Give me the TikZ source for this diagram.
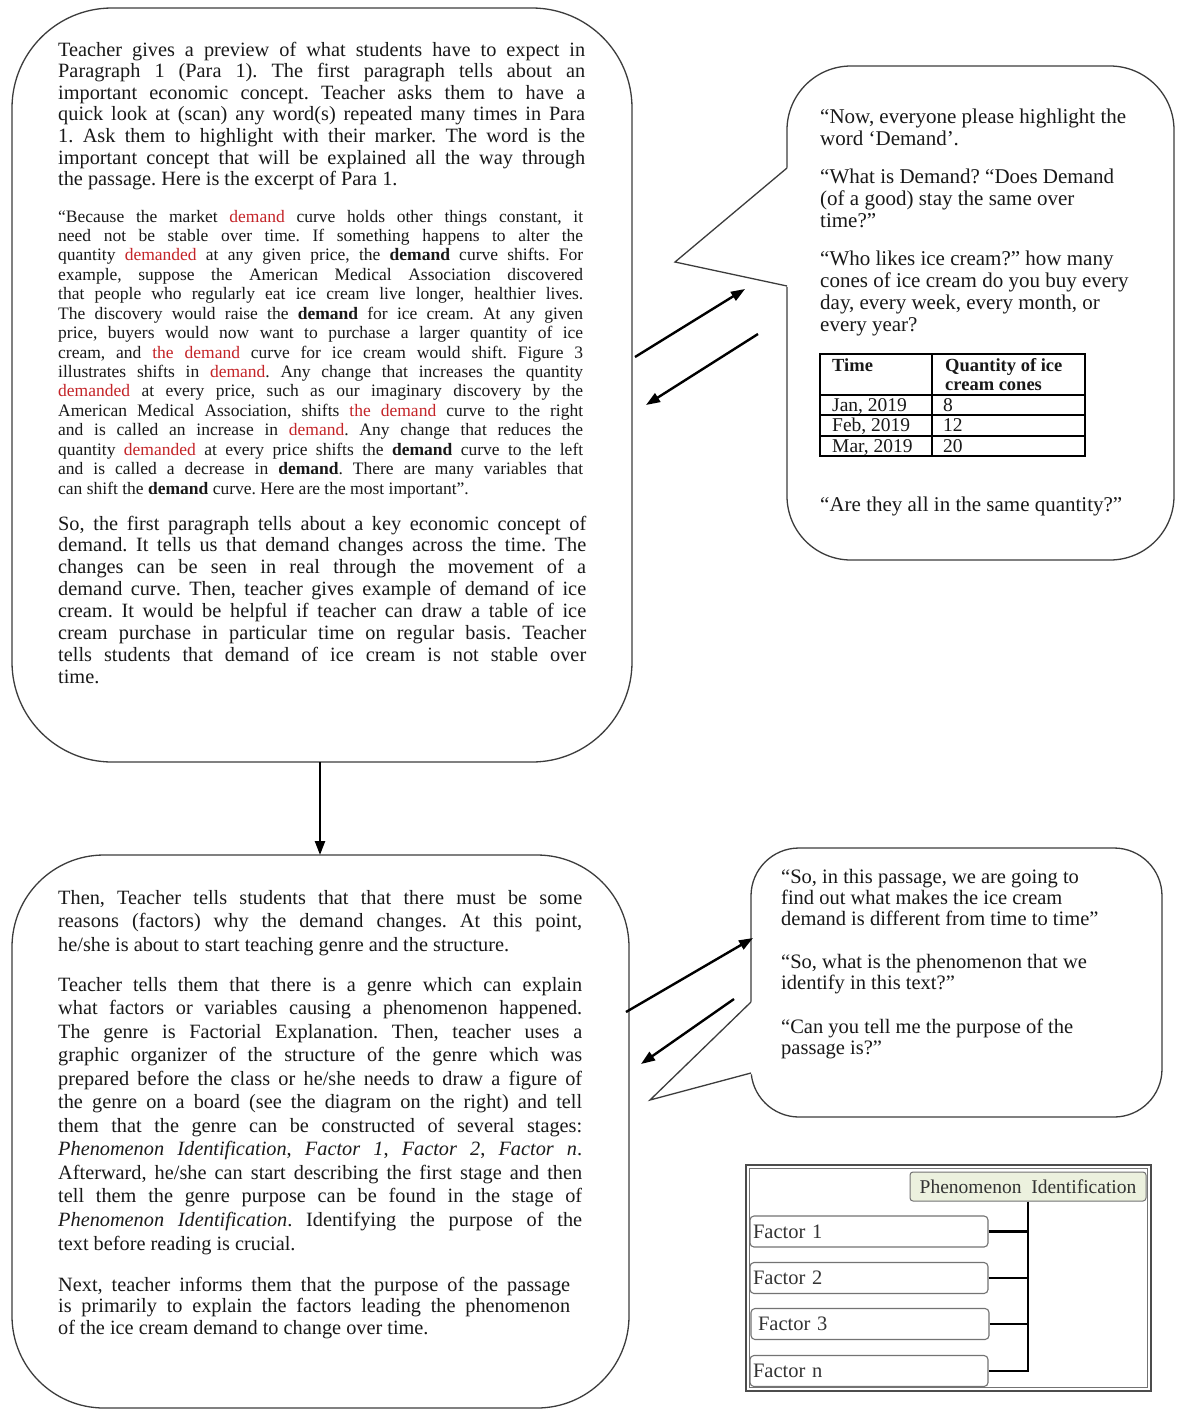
\documentclass[tikz,border=0pt]{standalone}
\usepackage{fontspec}
\setmainfont{Liberation Serif}
\usetikzlibrary{arrows.meta}

\definecolor{edge}{RGB}{60,60,60}
\definecolor{demred}{RGB}{196,36,40}
\definecolor{pifill}{RGB}{236,241,222}
\definecolor{ink}{RGB}{25,25,25}

% one justified line of a paragraph
\newcommand\jline[1]{\makebox[\linewidth][s]{#1}\\}
\newcommand\dem[1]{\textcolor{demred}{#1}}
\newcommand\bdem[1]{\textbf{#1}}

\begin{document}
\frenchspacing
\begin{tikzpicture}[x=1pt,y=-1pt,
  box/.style={draw=edge, line width=1.3pt, fill=white, inner sep=0pt},
  tailline/.style={draw=edge, line width=1.3pt, line join=miter},
  txt/.style={anchor=base west, inner sep=0pt, text=ink},
  body/.style={font=\fontsize{20.3}{21.6}\selectfont},
  quote/.style={font=\fontsize{17.5}{19.43}\selectfont},
  link/.style={line width=2.4pt, -{Triangle[length=14pt,width=10pt]}},
  tbl/.style={line width=1.4pt, draw=black},
  tabtxt/.style={txt, font=\fontsize{19.5}{19.5}\selectfont},
  fbox/.style={draw=black!55, line width=1.1pt, rounded corners=4pt, fill=white,
    minimum width=238pt, minimum height=31pt, inner xsep=3pt, inner ysep=0pt,
    text width=232pt, align=left, font=\fontsize{20.5}{22}\selectfont, text=black!80},
  tree/.style={line width=2.7pt, draw=black}]

\useasboundingbox (0,0) rectangle (1176,1409);
\fill[white] (0,0) rectangle (1176,1409);

% ---------- main boxes ----------
\node[box, rounded corners=100pt, minimum width=620pt, minimum height=754pt] (intro) at (322,385) {};
\node[box, rounded corners=92pt, minimum width=617pt, minimum height=553pt] (genre) at (320.5,1131.5) {};

% ---------- speech bubble 1 ----------
\node[box, rounded corners=64pt, minimum width=387pt, minimum height=494pt] (ask1) at (980.5,313) {};
\coordinate (t1a) at (787,168);
\coordinate (t1tip) at (675,262);
\coordinate (t1b) at (787,286);
\fill[white] (788.5,167) -- (t1tip) -- (788.5,287) -- cycle;
\draw[tailline] (t1a) -- (t1tip) -- (t1b);

% ---------- speech bubble 2 ----------
\node[box, rounded corners=48pt, minimum width=411pt, minimum height=269pt] (ask2) at (956.5,982.5) {};
\coordinate (t2a) at (751,1002);
\coordinate (t2tip) at (650,1100);
\coordinate (t2b) at (751,1073);
\fill[white] (752.5,1001) -- (t2tip) -- (752.5,1074) -- cycle;
\draw[tailline] (t2a) -- (t2tip) -- (t2b);

% ---------- connectors ----------
\coordinate (down1) at (320,762);
\coordinate (down2) at (320,855);
\draw[link] (down1) -- (down2);

\coordinate (a1s) at (635,357);  \coordinate (a1e) at (745,289);
\coordinate (a2s) at (758,334);  \coordinate (a2e) at (646,405);
\coordinate (a3s) at (626,1012); \coordinate (a3e) at (753,938);
\coordinate (a4s) at (734,999);  \coordinate (a4e) at (641,1064);
\draw[link] (a1s) -- (a1e);
\draw[link] (a2s) -- (a2e);
\draw[link] (a3s) -- (a3e);
\draw[link] (a4s) -- (a4e);

% ---------- text of the first box ----------
\node[txt, body] (introA) at (58,56) {\parbox[t]{527pt}{%
\jline{Teacher gives a preview of what students have to expect in}
\jline{Paragraph 1 (Para 1). The first paragraph tells about an}
\jline{important economic concept. Teacher asks them to have a}
\jline{quick look at (scan) any word(s) repeated many times in Para}
\jline{1. Ask them to highlight with their marker. The word is the}
\jline{important concept that will be explained all the way through}
the passage. Here is the excerpt of Para 1.}};

\node[txt, quote] (excerpt) at (58,222) {\parbox[t]{525pt}{%
\jline{“Because the market \dem{demand} curve holds other things constant, it}
\jline{need not be stable over time. If something happens to alter the}
\jline{quantity \dem{demanded} at any given price, the \bdem{demand} curve shifts. For}
\jline{example, suppose the American Medical Association discovered}
\jline{that people who regularly eat ice cream live longer, healthier lives.}
\jline{The discovery would raise the \bdem{demand} for ice cream. At any given}
\jline{price, buyers would now want to purchase a larger quantity of ice}
\jline{cream, and \dem{the demand} curve for ice cream would shift. Figure 3}
\jline{illustrates shifts in \dem{demand}. Any change that increases the quantity}
\jline{\dem{demanded} at every price, such as our imaginary discovery by the}
\jline{American Medical Association, shifts \dem{the demand} curve to the right}
\jline{and is called an increase in \dem{demand}. Any change that reduces the}
\jline{quantity \dem{demanded} at every price shifts the \bdem{demand} curve to the left}
\jline{and is called a decrease in \bdem{demand}. There are many variables that}
can shift the \bdem{demand} curve. Here are the most important”.}};

\node[txt, font=\fontsize{20.3}{21.86}\selectfont] (introB) at (58,530) {\parbox[t]{528pt}{%
\jline{So, the first paragraph tells about a key economic concept of}
\jline{demand. It tells us that demand changes across the time. The}
\jline{changes can be seen in real through the movement of a}
\jline{demand curve. Then, teacher gives example of demand of ice}
\jline{cream. It would be helpful if teacher can draw a table of ice}
\jline{cream purchase in particular time on regular basis. Teacher}
\jline{tells students that demand of ice cream is not stable over}
time.}};

% ---------- text of the second box ----------
\node[txt, font=\fontsize{20.3}{23.5}\selectfont] (genreA) at (58,904) {\parbox[t]{524pt}{%
\jline{Then, Teacher tells students that that there must be some}
\jline{reasons (factors) why the demand changes. At this point,}
he/she is about to start teaching genre and the structure.}};

\node[txt, font=\fontsize{20.3}{23.55}\selectfont] (genreB) at (58,991) {\parbox[t]{524pt}{%
\jline{Teacher tells them that there is a genre which can explain}
\jline{what factors or variables causing a phenomenon happened.}
\jline{The genre is Factorial Explanation. Then, teacher uses a}
\jline{graphic organizer of the structure of the genre which was}
\jline{prepared before the class or he/she needs to draw a figure of}
\jline{the genre on a board (see the diagram on the right) and tell}
\jline{them that the genre can be constructed of several stages:}
\jline{\textit{Phenomenon Identification}, \textit{Factor 1}, \textit{Factor 2}, \textit{Factor n}.}
\jline{Afterward, he/she can start describing the first stage and then}
\jline{tell them the genre purpose can be found in the stage of}
\jline{\textit{Phenomenon Identification}. Identifying the purpose of the}
text before reading is crucial.}};

\node[txt, font=\fontsize{20.3}{21.5}\selectfont] (genreC) at (58,1291) {\parbox[t]{512pt}{%
\jline{Next, teacher informs them that the purpose of the passage}
\jline{is primarily to explain the factors leading the phenomenon}
of the ice cream demand to change over time.}};

% ---------- text of bubble 1 ----------
\node[txt, font=\fontsize{21}{22}\selectfont] (askA) at (820,123) {\parbox[t]{345pt}{%
“Now, everyone please highlight the\\ word ‘Demand’.}};
\node[txt, font=\fontsize{21}{22}\selectfont] (askB) at (820,183) {\parbox[t]{345pt}{%
“What is Demand? “Does Demand\\ (of a good) stay the same over\\ time?”}};
\node[txt, font=\fontsize{21}{22.3}\selectfont] (askC) at (820,265) {\parbox[t]{345pt}{%
“Who likes ice cream?” how many\\ cones of ice cream do you buy every\\ day, every week, every month, or\\ every year?}};
\node[txt, font=\fontsize{21}{22}\selectfont] (askD) at (820,511) {“Are they all in the same quantity?”};

% table of purchases
\draw[tbl] (820,354) rectangle (1085,456);
\draw[tbl] (932,354) -- (932,456);
\draw[tbl] (820,395) -- (1085,395);
\draw[tbl] (820,415) -- (1085,415);
\draw[tbl] (820,436) -- (1085,436);
\node[tabtxt, font=\fontsize{18.5}{19.5}\selectfont\bfseries] (thTime) at (832,371) {Time};
\node[tabtxt, font=\fontsize{18.5}{19.5}\selectfont\bfseries] (thQty) at (945,371) {\parbox[t]{140pt}{Quantity of ice\\ cream cones}};
\node[tabtxt] (r1a) at (832,411) {Jan, 2019};
\node[tabtxt] (r1b) at (943,411) {8};
\node[tabtxt] (r2a) at (832,431) {Feb, 2019};
\node[tabtxt] (r2b) at (943,431) {12};
\node[tabtxt] (r3a) at (832,452) {Mar, 2019};
\node[tabtxt] (r3b) at (943,452) {20};

% ---------- text of bubble 2 ----------
\node[txt, font=\fontsize{20.5}{21}\selectfont] (sayA) at (781,883) {\parbox[t]{372pt}{%
“So, in this passage, we are going to\\ find out what makes the ice cream\\ demand is different from time to time”}};
\node[txt, font=\fontsize{20.5}{21.5}\selectfont] (sayB) at (781,968) {\parbox[t]{372pt}{%
“So, what is the phenomenon that we\\ identify in this text?”}};
\node[txt, font=\fontsize{20.5}{21.5}\selectfont] (sayC) at (781,1033) {\parbox[t]{372pt}{%
“Can you tell me the purpose of the\\ passage is?”}};

% ---------- genre structure organizer ----------
\draw[line width=1.2pt, draw=black!70] (746,1165) rectangle (1151,1391);
\draw[line width=0.8pt, draw=black!55] (749.5,1168.5) rectangle (1147.5,1387.5);

\node[draw=black!55, line width=1pt, fill=pifill, rounded corners=3pt,
  minimum width=236pt, minimum height=29pt, inner sep=0pt,
  font=\fontsize{19.5}{22}\selectfont, text=black!80] (phen) at (1028,1186.5) {Phenomenon\ \ Identification};

\node[fbox] (f1) at (869,1231.5) {Factor 1};
\node[fbox] (f2) at (869,1278) {Factor 2};
\node[fbox] (f3) at (870,1324) {\hspace{4pt}Factor 3};
\node[fbox] (fn) at (869,1371) {Factor n};

\draw[tree] (phen.south) |- (fn.east);
\draw[tree] (f1.east) -- (f1.east -| phen.south);
\draw[tree] (f2.east) -- (f2.east -| phen.south);
\draw[tree] (f3.east) -- (f3.east -| phen.south);

\end{tikzpicture}
\end{document}
